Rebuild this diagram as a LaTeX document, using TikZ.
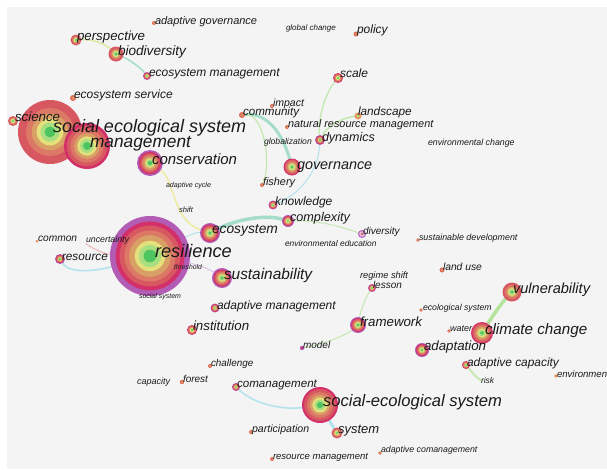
\documentclass[tikz,border=0pt]{standalone}
\usepackage{fontspec}
\setmainfont{Liberation Sans}
\definecolor{bgc}{HTML}{F4F4F4}
\definecolor{txt}{HTML}{1A1A1A}
\definecolor{cP}{HTML}{B25CB5}
\definecolor{cM}{HTML}{D3306A}
\definecolor{cR}{HTML}{D85862}
\definecolor{cS}{HTML}{DC7866}
\definecolor{cO}{HTML}{D9A066}
\definecolor{cY}{HTML}{E4E07C}
\definecolor{cL}{HTML}{A8DE80}
\definecolor{cG}{HTML}{4EC460}
\definecolor{cD}{HTML}{E06A55}
\definecolor{cDo}{HTML}{E8945A}
\definecolor{cW}{HTML}{E8C8E8}
\definecolor{eYG}{HTML}{DCEBA4}
\definecolor{eT}{HTML}{A6DCCB}
\definecolor{eG}{HTML}{C4E8B0}
\definecolor{eC}{HTML}{B2E2EC}
\definecolor{eY}{HTML}{EEEBA0}
\definecolor{eK}{HTML}{F2B4B4}
\definecolor{eV}{HTML}{DCC4EA}
\definecolor{eGG}{HTML}{B4E49C}
\def\schP{1/cP,.86/cM,.76/cR,.64/cS,.52/cO,.38/cY,.28/cL,.16/cG}
\def\schM{1/cM,.88/cR,.72/cS,.56/cO,.42/cY,.3/cL,.17/cG}
\def\schQ{1/cR,.75/cS,.57/cO,.42/cY,.3/cL,.17/cG}
\def\schD{1/cD,.5/cO}
\def\schO{1/cDo}
\def\schL{1/cDo,.45/cL}
\def\schH{1/cP,.7/cW,.35/cR}
\def\schV{1/cP,.5/cM}
\newcommand\kw[5]{\node[kwn=#4] (#1) at (#2,#3) {};%
  \foreach \f/\c in #5 {\fill[\c] (#1.center) circle[radius={#4*\f*1pt}];}}
\pgfdeclarelayer{back}
\pgfdeclarelayer{edges}
\pgfsetlayers{back,edges,main}
\begin{document}
\begin{tikzpicture}[x=1pt,y=-1pt,
  lbl/.style={anchor=base west,inner sep=0pt,outer sep=0pt,text=txt,font=\fontsize{#1}{#1}\selectfont\itshape},
  kwn/.style={circle,inner sep=0pt,outer sep=0pt,minimum size=#1*2pt},
  lnk/.style={line cap=round,draw=#1}]
\begin{pgfonlayer}{back}
\fill[white] (0,0) rectangle (607,469);
\fill[bgc] (7,7) rectangle (607,469);
\end{pgfonlayer}
\useasboundingbox (0,0) rectangle (607,469);

% keyword nodes (rings)
\kw{ses}{50}{132}{32}{\schQ}
\kw{management}{87}{146}{23}{\schM}
\kw{resilience}{150}{256}{40}{\schP}
\kw{conservation}{150}{163}{13}{\schP}
\kw{ecosystem}{210}{233}{10}{\schP}
\kw{sustainability}{222}{278}{10}{\schP}
\kw{socioeco}{320}{405}{18}{\schM}
\kw{governance}{292}{167}{8.5}{\schM}
\kw{vulnerability}{512}{292}{9.5}{\schQ}
\kw{climate}{482}{333}{11}{\schM}
\kw{framework}{358}{325}{8}{\schP}
\kw{adaptation}{422}{350}{7}{\schP}
\kw{complexity}{288}{221}{6}{\schP}
\kw{knowledge}{273}{205}{4.5}{\schP}
\kw{dynamics}{320}{140}{5}{\schP}
\kw{scale}{338}{78}{5}{\schM}
\kw{biodiversity}{116}{54}{7.5}{\schQ}
\kw{perspective}{76}{40}{5.5}{\schQ}
\kw{science}{13}{121}{5}{\schQ}
\kw{system}{337}{433}{5.5}{\schQ}
\kw{institution}{192}{330}{5}{\schM}
\kw{admgmt}{215}{308}{4.5}{\schP}
\kw{resource}{60}{259}{5}{\schP}
\kw{lesson}{372}{288}{4}{\schP}
\kw{diversity}{362}{234}{4}{\schH}
\kw{comanagement}{236}{387}{4}{\schP}
\kw{ecomgmt}{147}{76}{4}{\schP}
\kw{adcap}{466}{365}{4}{\schM}
\kw{landscape}{358}{116}{3.5}{\schL}
\kw{community}{242}{115}{3}{\schD}
\kw{ecoserv}{73}{98}{3}{\schD}
\kw{adgov}{154}{23}{2}{\schD}
\kw{policy}{356}{34}{2.5}{\schD}
\kw{impact}{272}{106}{2}{\schD}
\kw{nrm}{287}{127}{2}{\schD}
\kw{fishery}{262}{185}{2}{\schD}
\kw{sustdev}{418}{240}{1.8}{\schD}
\kw{landuse}{442}{270}{2.5}{\schD}
\kw{ecolsys}{421}{310}{1.8}{\schD}
\kw{water}{449}{331}{1.8}{\schD}
\kw{model}{302}{348}{2.2}{\schV}
\kw{challenge}{210}{366}{2}{\schD}
\kw{forest}{182}{382}{2.2}{\schD}
\kw{participation}{251}{432}{2}{\schD}
\kw{adcomgmt}{380}{453}{1.8}{\schD}
\kw{resmgmt}{272}{459}{2}{\schD}
\kw{common}{37}{241}{1.5}{\schO}
\kw{environment}{556}{376}{1.8}{\schO}

% labels
\node[lbl=11] (t-adgov) at (155,24) {adaptive governance};
\node[lbl=8] (t-globch) at (286,30) {global change};
\node[lbl=12] (t-policy) at (357,33) {policy};
\node[lbl=13.3] (t-perspective) at (77,40) {perspective};
\node[lbl=13.6] (t-biodiversity) at (118,55) {biodiversity};
\node[lbl=12] (t-ecomgmt) at (149,76) {ecosystem management};
\node[lbl=12] (t-ecoserv) at (74,98) {ecosystem service};
\node[lbl=13.3] (t-science) at (15,121) {science};
\node[lbl=18] (t-ses) at (53,132) {social ecological system};
\node[lbl=17.3] (t-management) at (90,147) {management};
\node[lbl=15] (t-conservation) at (152,164) {conservation};
\node[lbl=7.1] (t-adcycle) at (166,187) {adaptive cycle};
\node[lbl=11.6] (t-community) at (243,115) {community};
\node[lbl=10.5] (t-impact) at (273,106) {impact};
\node[lbl=10.9] (t-nrm) at (288,127) {natural resource management};
\node[lbl=8.6] (t-global) at (264,144) {globalization};
\node[lbl=12.5] (t-dynamics) at (322,141) {dynamics};
\node[lbl=11.8] (t-landscape) at (358,115) {landscape};
\node[lbl=12] (t-scale) at (340,77) {scale};
\node[lbl=8.8] (t-envch) at (428,145) {environmental change};
\node[lbl=14.4] (t-governance) at (297,169) {governance};
\node[lbl=10.9] (t-fishery) at (263,185) {fishery};
\node[lbl=12] (t-knowledge) at (275,205) {knowledge};
\node[lbl=12.7] (t-complexity) at (290,221) {complexity};
\node[lbl=10] (t-diversity) at (363,234) {diversity};
\node[lbl=8.4] (t-enved) at (285,246) {environmental education};
\node[lbl=8.9] (t-sustdev) at (419,240) {sustainable development};
\node[lbl=10.3] (t-landuse) at (443,270) {land use};
\node[lbl=9.3] (t-regime) at (360,278) {regime shift};
\node[lbl=10] (t-lesson) at (373,288) {lesson};
\node[lbl=14.6] (t-vulnerability) at (513,293) {vulnerability};
\node[lbl=8.7] (t-ecolsys) at (423,310) {ecological system};
\node[lbl=9] (t-water) at (450,331) {water};
\node[lbl=15.2] (t-climate) at (485,334) {climate change};
\node[lbl=13.3] (t-framework) at (360,326) {framework};
\node[lbl=13.3] (t-adaptation) at (424,350) {adaptation};
\node[lbl=11.9] (t-adcap) at (467,366) {adaptive capacity};
\node[lbl=8.4] (t-risk) at (481,383) {risk};
\node[lbl=9.6] (t-environment) at (557,377) {environment};
\node[lbl=10] (t-model) at (303,348) {model};
\node[lbl=9.9] (t-challenge) at (211,366) {challenge};
\node[lbl=9] (t-capacity) at (137,384) {capacity};
\node[lbl=10] (t-forest) at (183,382) {forest};
\node[lbl=11.6] (t-comanagement) at (237,387) {comanagement};
\node[lbl=16.6] (t-socioeco) at (323,406) {social-ecological system};
\node[lbl=10.6] (t-participation) at (252,432) {participation};
\node[lbl=13] (t-system) at (338,433) {system};
\node[lbl=8.8] (t-adcomgmt) at (381,452) {adaptive comanagement};
\node[lbl=9.5] (t-resmgmt) at (273,459) {resource management};
\node[lbl=13.3] (t-institution) at (193,330) {institution};
\node[lbl=12] (t-admgmt) at (217,309) {adaptive management};
\node[lbl=15.4] (t-sustainability) at (224,279) {sustainability};
\node[lbl=13.8] (t-ecosystem) at (212,233) {ecosystem};
\node[lbl=18.2] (t-resilience) at (155,257) {resilience};
\node[lbl=6.8] (t-threshold) at (174,269) {threshold};
\node[lbl=7] (t-socsys) at (139,298) {social system};
\node[lbl=8.8] (t-uncertainty) at (86,242) {uncertainty};
\node[lbl=10.2] (t-common) at (38,241) {common};
\node[lbl=11.8] (t-resource) at (62,260) {resource};
\node[lbl=7.6] (t-shift) at (179,212) {shift};

% connectors
\begin{pgfonlayer}{edges}
\draw[lnk=eYG,line width=1.5pt] (perspective) .. controls (95,39) and (106,45) .. (biodiversity);
\draw[lnk=eT,line width=1.5pt] (biodiversity) .. controls (130,60) and (141,68) .. (ecomgmt);
\draw[lnk=eT,line width=3pt] (community) .. controls (266,112) and (282,132) .. (governance);
\draw[lnk=eG,line width=1.2pt] (community) .. controls (264,112) and (272,165) .. (fishery);
\draw[lnk=eG,line width=1.3pt] (scale) .. controls (324,95) and (318,120) .. (dynamics);
\draw[lnk=eG,line width=1.6pt] (landscape) .. controls (340,118) and (326,128) .. (dynamics);
\draw[lnk=eC,line width=1pt] (dynamics) .. controls (318,175) and (296,196) .. (knowledge);
\draw[lnk=eT,line width=3.5pt] (ecosystem) .. controls (235,220) and (265,214) .. (complexity);
\draw[lnk=eG,line width=1pt] (complexity) .. controls (320,220) and (345,228) .. (diversity);
\draw[lnk=eY,line width=1.5pt] (conservation) .. controls (175,180) and (172,220) .. (ecosystem);
\draw[lnk=eC,line width=1.6pt] (resource) .. controls (70,275) and (100,270) .. (resilience);
\draw[lnk=eK,line width=1pt] (t-uncertainty.south west) .. controls (95,250) and (105,254) .. (resilience);
\draw[lnk=eC,line width=1pt] (resilience) .. controls (180,240) and (195,232) .. (ecosystem);
\draw[lnk=eV,line width=1pt] (resilience) .. controls (185,262) and (205,266) .. (sustainability);
\draw[lnk=eG,line width=1pt] (lesson) .. controls (364,300) and (360,314) .. (framework);
\draw[lnk=eG,line width=1pt] (framework) .. controls (345,336) and (320,345) .. (model);
\draw[lnk=eGG,line width=3.5pt] (vulnerability) .. controls (500,305) and (490,320) .. (climate);
\draw[lnk=eG,line width=2pt] (adcap) .. controls (472,372) and (476,378) .. (t-risk.west);
\draw[lnk=eC,line width=1.5pt] (comanagement) .. controls (255,405) and (285,410) .. (socioeco);
\draw[lnk=eC,line width=3pt] (socioeco) -- (system);
\end{pgfonlayer}
\end{tikzpicture}
\end{document}
